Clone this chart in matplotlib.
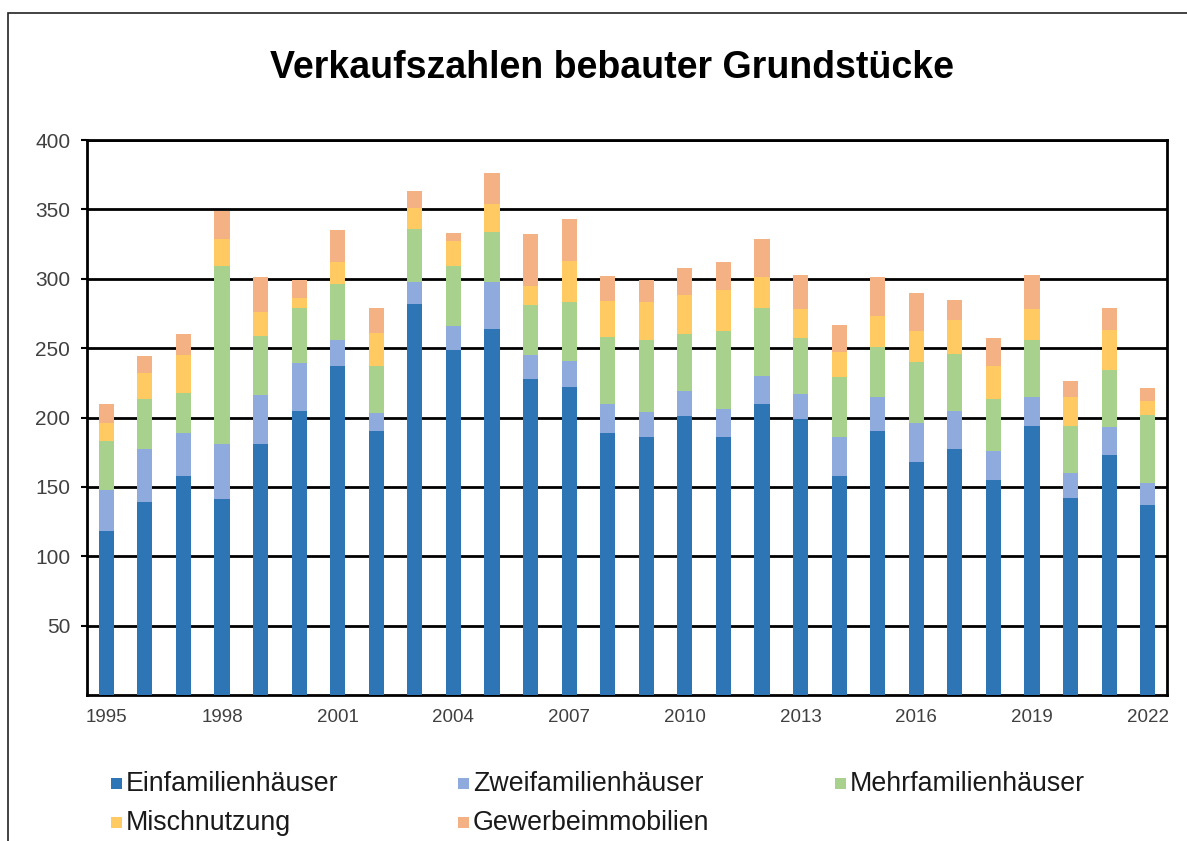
import matplotlib
matplotlib.use("Agg")
import matplotlib.pyplot as plt
from matplotlib.patches import Rectangle
import numpy as np

plt.rcParams['font.family'] = ['Liberation Sans', 'DejaVu Sans']

years = list(range(1995, 2023))
series_names = ["Einfamilienhäuser", "Zweifamilienhäuser", "Mehrfamilienhäuser",
                "Mischnutzung", "Gewerbeimmobilien"]
einfamilien = [118, 139, 158, 141, 181, 205, 237, 190, 282, 249, 264, 228, 222, 189,
               186, 201, 186, 210, 199, 158, 190, 168, 177, 155, 194, 142, 173, 137]
zweifamilien = [30, 38, 31, 40, 35, 34, 19, 13, 16, 17, 34, 17, 19, 21,
                18, 18, 20, 20, 18, 28, 25, 28, 28, 21, 21, 18, 20, 16]
mehrfamilien = [35, 36, 29, 128, 43, 40, 40, 34, 38, 43, 36, 36, 42, 48,
                52, 41, 56, 49, 40, 43, 36, 44, 41, 37, 41, 34, 41, 49]
mischnutzung = [13, 19, 27, 20, 17, 7, 16, 24, 15, 18, 20, 14, 30, 26,
                27, 28, 30, 22, 21, 18, 22, 22, 24, 24, 22, 21, 29, 10]
gewerbe = [14, 12, 15, 20, 25, 13, 23, 18, 12, 6, 22, 37, 30, 18,
           16, 20, 20, 28, 25, 20, 28, 28, 15, 20, 25, 11, 16, 9]
colors = ["#2E75B6", "#8FAADC", "#A9D18E", "#FFCA62", "#F4B183"]
title = "Verkaufszahlen bebauter Grundstücke"

W, H = 1187, 841
fig = plt.figure(figsize=(W / 100, H / 100), dpi=100)
ax = fig.add_axes([87 / W, 1 - 695 / H, (1167 - 87) / W, (695 - 140) / H])

x = np.arange(len(years))
bottom = np.zeros(len(years))
all_series = [einfamilien, zweifamilien, mehrfamilien, mischnutzung, gewerbe]
for vals, c, name in zip(all_series, colors, series_names):
    ax.bar(x, vals, width=0.39, bottom=bottom, color=c, label=name, zorder=3)
    bottom += np.array(vals)

ax.set_xlim(-0.5, len(years) - 0.5)
ax.set_ylim(0, 400)
ax.set_yticks(range(50, 401, 50))
ax.yaxis.grid(True, color="black", linewidth=2.0, zorder=1)
ax.set_axisbelow(True)
for s in ax.spines.values():
    s.set_color("black")
    s.set_linewidth(2.0)
ax.tick_params(axis="y", length=4, width=1.5, color="black", pad=8,
               labelsize=15, labelcolor="#404040")
xt = list(range(0, len(years), 3))
ax.set_xticks(xt)
ax.set_xticklabels([str(years[i]) for i in xt])
ax.tick_params(axis="x", length=0, pad=10, labelsize=13.5, labelcolor="#404040")

fig.text(612 / W, 1 - 68 / H, title, ha="center", va="center",
         fontsize=27, fontweight="bold", color="black")

# legend (manual layout)
leg_pos = [(111, 783), (458, 783), (835, 783), (111, 822), (458, 822)]
for (px, py), c, name in zip(leg_pos, colors, series_names):
    fig.patches.append(Rectangle((px / W, 1 - (py + 5.5) / H), 11 / W, 11 / H,
                                 transform=fig.transFigure, facecolor=c,
                                 edgecolor="none", figure=fig))
    fig.text((px + 15) / W, 1 - (py + 1) / H, name, ha="left", va="center",
             fontsize=19.3, color="#1a1a1a")

# outer chart border (extends beyond the image on right/bottom)
fig.patches.append(Rectangle((8 / W, -0.2), 1.5, 1.2 - 13 / H,
                             transform=fig.transFigure, facecolor="none",
                             edgecolor="#222222", linewidth=1.2, figure=fig))

fig.savefig("out.png", dpi=100)
